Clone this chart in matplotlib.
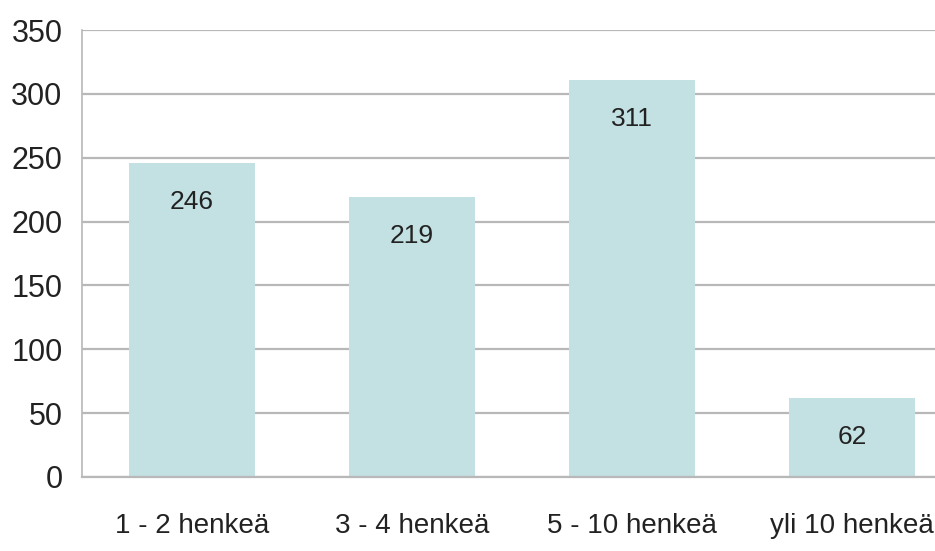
import numpy as np
import matplotlib.pyplot as plt
from matplotlib import font_manager

# 그룹 크기별 응답 수
categories = ['1 - 2 henkeä', '3 - 4 henkeä', '5 - 10 henkeä', 'yli 10 henkeä']
values = [246, 219, 311, 62]
yticks = [0, 50, 100, 150, 200, 250, 300, 350]

names = {f.name for f in font_manager.fontManager.ttflist}
fam = ['Liberation Sans Narrow'] if 'Liberation Sans Narrow' in names else ['Liberation Sans']
plt.rcParams['font.family'] = fam + ['DejaVu Sans']

fig = plt.figure(figsize=(9.35, 5.51), dpi=100)
fig.patch.set_facecolor('white')
ax = fig.add_axes([82 / 935, 74 / 551, 1 - 82 / 935, 447 / 551])

x = np.arange(len(categories))
bars = ax.bar(x, values, width=0.57, color='#c3e0e2', zorder=2)

for b, v in zip(bars, values):
    ax.annotate(str(v), xy=(b.get_x() + b.get_width() / 2, v),
                xytext=(0, -28), textcoords='offset points',
                ha='center', va='center', fontsize=19, color='#222222', zorder=3)

ax.set_ylim(0, 350)
ax.set_yticks(yticks)
ax.set_xlim(-0.5, 3.5 - 27 / 220)
ax.set_xticks(x)
ax.set_xticklabels(categories, fontsize=20)
ax.yaxis.grid(True, color='#b8b8b8', linewidth=1.6, zorder=0)
ax.set_axisbelow(True)

for s in ['top', 'right']:
    ax.spines[s].set_visible(False)
ax.spines['left'].set_color('#b8b8b8')
ax.spines['bottom'].set_color('#b8b8b8')
ax.spines['left'].set_linewidth(1.2)
ax.spines['bottom'].set_linewidth(1.6)

ax.tick_params(axis='both', length=0, colors='#222222')
ax.tick_params(axis='y', pad=14, labelsize=22)
ax.tick_params(axis='x', pad=26)

plt.savefig('out.png', dpi=100, facecolor='white')
plt.close()
